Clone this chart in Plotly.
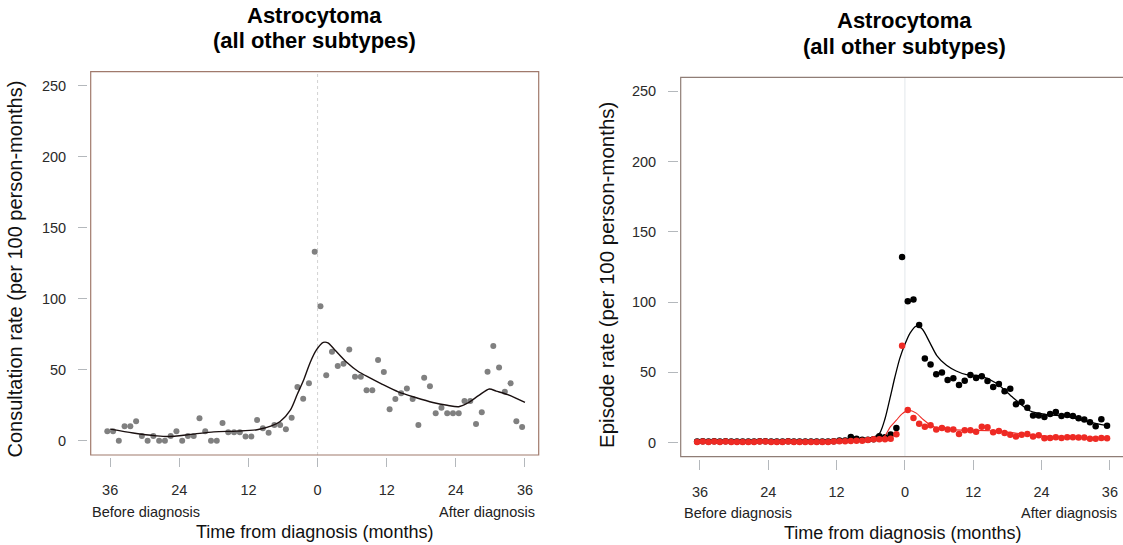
import plotly.graph_objects as go

# ---------------- data ----------------
# month mid-points (-36.5 ... 35.5)
months = [m + 0.5 for m in range(-37, 36)]

consult_rate = [6.8, 6.8, 0, 10.3, 10.3, 13.8, 3.3, 0, 3.3, 0, 0, 3.3, 6.8, 0, 3.3, 3.3,
                15.9, 6.8, 0, 0, 12.6, 6.1, 6.1, 6.1, 3.0, 3.0, 14.7, 8.9, 5.6, 11.2, 11.2,
                8.2, 16.2, 37.9, 29.7, 40.5, 133.2, 94.8, 46.1, 62.7, 52.7, 54.3, 64.4, 45.2,
                45.2, 35.6, 35.6, 56.9, 48.5, 22.2, 29.5, 33.5, 36.8, 29.5, 11.2, 44.5, 38.4,
                19.4, 23.2, 19.4, 19.4, 19.4, 28.1, 28.1, 11.9, 20.1, 48.7, 66.7, 51.7, 34.6,
                40.5, 13.8, 9.8]

consult_smooth_x = [-36, -32, -28, -26, -22, -18, -14, -10.5, -8, -6.5, -4.7, -3.5, -2.4,
                    -1.3, -0.2, 1.0, 1.8, 3, 5, 7, 9, 11, 14, 17, 20, 22.5, 24.5, 26, 28,
                    29.8, 31, 33, 36]
consult_smooth_y = [8.2, 5.5, 3.5, 3.0, 4.5, 6.3, 6.8, 7.8, 10.5, 13.6, 21.8, 33, 43, 55, 64,
                    69.3, 69, 64, 55.5, 49, 44.5, 40.3, 34.5, 30.5, 27, 25, 24, 26.5, 32,
                    36.5, 35, 32.5, 27]

episode_all = [0.9, 1.0, 0.8, 1.0, 0.8, 1.0, 0.8, 0.8, 0.8, 0.8, 0.8, 1.0, 1.0, 0.8, 0.8,
               0.8, 1.0, 0.8, 0.8, 0.8, 0.8, 0.8, 0.8, 0.8, 1.0,
               1.5, 1.5, 4.0, 2.8, 2.0, 2.0, 2.5, 4.5, 3.8, 5.8, 10.4,
               132.1, 100.6, 101.8, 83.7, 59.8, 55.7, 48.6, 50, 44.6, 45.8, 41, 44.1, 48.1,
               46, 47.2, 43.9, 39.6, 41.7, 36.5, 38.4, 27.3, 28.9, 24.9, 19.4, 19.4, 18.3,
               20.4, 21.8, 19, 19.7, 19, 17.3, 16.4, 14.5, 11.6, 16.6, 12.1]

episode_sub = [0.5, 0.8, 0.5, 0.8, 0.5, 0.8, 0.5, 0.5, 0.5, 0.5, 0.5, 0.8, 0.8, 0.5, 0.5,
               0.5, 0.8, 0.5, 0.5, 0.5, 0.5, 0.5, 0.5, 0.5, 0.8,
               1.0, 1.0, 1.2, 1.4, 1.4, 1.9, 2.4, 2.4, 2.4, 2.8, 5.9,
               69, 23.2, 17.6, 13.5, 11.4, 12.3, 9.3, 10.4, 9.3, 9.3, 6.2, 8.8, 8.8, 7.8,
               11.4, 10.9, 7.4, 8.3, 6.9, 5.7, 4.3, 5.7, 6.2, 4.3, 5.2, 3.1, 3.3, 3.8, 3.3,
               3.8, 3.8, 3.6, 3.6, 2.8, 2.8, 3.3, 3.1]

episode_all_smooth_x = [-36, -24, -15, -10, -6.5, -5.2, -4.4, -3.5, -2.6, -1.8, -0.9, 0.0,
                        0.9, 2.0, 3.0, 4.4, 5.6, 7.3, 9, 10.8, 13.2, 16, 19, 22, 24.9, 28.4,
                        31.9, 35.5]
episode_all_smooth_y = [1, 1, 1.5, 2, 3, 4.5, 7, 17, 32, 46, 60, 70, 78, 83, 81, 71, 62,
                        55, 51, 48.4, 47.5, 42.5, 32, 22.5, 20, 18.7, 15.2, 12.1]

episode_sub_smooth_x = [-36, -10, -5.5, -4.4, -3.5, -2.6, -1.5, -0.5, 0.6, 2, 3.2, 4.4, 6,
                        8, 11, 15, 18, 21, 24, 28, 32, 35.5]
episode_sub_smooth_y = [0.8, 1, 1.5, 2.5, 5, 11, 16, 20.5, 23, 21, 16.5, 12.8, 10, 9.3, 8.8,
                        8.5, 7.5, 6, 4.8, 3.8, 3.4, 3.1]

tick_vals_x = [-36, -24, -12, 0, 12, 24, 36]
tick_text_x = ["36", "24", "12", "0", "12", "24", "36"]
tick_vals_y = [0, 50, 100, 150, 200, 250]

title_line1 = "Astrocytoma"
title_line2 = "(all other subtypes)"
ytitle_left = "Consultation rate (per 100 person-months)"
ytitle_right = "Episode rate (per 100 person-months)"
xtitle = "Time from diagnosis (months)"

# ---------------- layout helpers ----------------
W, H = 1123, 545
def px(x):
    return x / W
def py(y):
    return 1 - y / H

FONT = "Liberation Sans, Arial, sans-serif"
BOX = "#a07a6c"
TICK = "#b4b8bc"

fig = go.Figure()

fig.add_trace(go.Scatter(x=months, y=consult_rate, mode="markers",
                         marker=dict(color="#808080", size=6), xaxis="x", yaxis="y",
                         showlegend=False, hoverinfo="skip"))
fig.add_trace(go.Scatter(x=consult_smooth_x, y=consult_smooth_y, mode="lines",
                         line=dict(color="#1a1010", width=1.4, shape="spline", smoothing=0.8),
                         xaxis="x", yaxis="y", showlegend=False, hoverinfo="skip"))

fig.add_trace(go.Scatter(x=months, y=episode_all, mode="markers",
                         marker=dict(color="#000000", size=6.5), xaxis="x2", yaxis="y2",
                         showlegend=False, hoverinfo="skip"))
fig.add_trace(go.Scatter(x=episode_all_smooth_x, y=episode_all_smooth_y, mode="lines",
                         line=dict(color="#000000", width=1.3, shape="spline", smoothing=0.8),
                         xaxis="x2", yaxis="y2", showlegend=False, hoverinfo="skip"))
fig.add_trace(go.Scatter(x=months, y=episode_sub, mode="markers",
                         marker=dict(color="#ee2a24", size=6.5), xaxis="x2", yaxis="y2",
                         showlegend=False, hoverinfo="skip"))
fig.add_trace(go.Scatter(x=episode_sub_smooth_x, y=episode_sub_smooth_y, mode="lines",
                         line=dict(color="#ee2a24", width=1.1, shape="spline", smoothing=0.8),
                         xaxis="x2", yaxis="y2", showlegend=False, hoverinfo="skip"))

tickfont = dict(family=FONT, size=14.5, color="#2a2a2a")
xcommon = dict(tickvals=tick_vals_x, ticktext=tick_text_x, ticks="outside", tickcolor=TICK,
               tickwidth=1, showline=False, showgrid=False, zeroline=False,
               tickfont=tickfont, anchor="free", fixedrange=True)
ycommon = dict(tickvals=tick_vals_y, ticks="outside", tickcolor=TICK, tickwidth=1,
               showline=False, showgrid=False, zeroline=False, tickfont=tickfont,
               anchor="free", range=[-10, 260], fixedrange=True)

fig.update_layout(
    width=W, height=H, autosize=False,
    margin=dict(l=0, r=0, t=0, b=0),
    paper_bgcolor="white", plot_bgcolor="white",
    font=dict(family=FONT, color="#111111"),
    xaxis=dict(domain=[px(90.7), px(538.7)], range=[-39.38, 38.38], position=py(457),
               ticklen=9, ticklabelstandoff=11, **xcommon),
    yaxis=dict(domain=[py(455), py(71.7)], position=px(87), ticklen=9,
               ticklabelstandoff=9, **ycommon),
    xaxis2=dict(domain=[px(680.7), 1.0], range=[-39.38, 38.3], position=py(458.5),
                ticklen=10, ticklabelstandoff=10, **xcommon),
    yaxis2=dict(domain=[py(456.7), py(77.3)], position=px(678), ticklen=10,
                ticklabelstandoff=9, **ycommon),
)

# boxes and zero lines
fig.add_shape(type="rect", xref="x domain", yref="y domain", x0=0, x1=1, y0=0, y1=1,
              line=dict(color=BOX, width=1.2), layer="above")
fig.add_shape(type="rect", xref="x2 domain", yref="y2 domain", x0=0, x1=1.004, y0=0, y1=1,
              line=dict(color="#8f7d76", width=1.2), layer="above")
fig.add_shape(type="line", xref="x", yref="y domain", x0=0, x1=0, y0=0, y1=1,
              line=dict(color="#d2d2d2", width=1, dash="dot"), layer="below")
fig.add_shape(type="line", xref="x2", yref="y2 domain", x0=0, x1=0, y0=0, y1=1,
              line=dict(color="#e2e7eb", width=1), layer="below")

ann = []
def text(x, y, s, size, xanchor="center", angle=0, bold=False, color="#111111"):
    ann.append(dict(x=px(x), y=py(y), xref="paper", yref="paper", text=(f"<b>{s}</b>" if bold else s),
                    showarrow=False, xanchor=xanchor, yanchor="middle", textangle=angle,
                    font=dict(family=FONT, size=size, color=color)))

# titles
text(314, 15, title_line1, 22, bold=True, color="#000000")
text(314, 41, title_line2, 22, bold=True, color="#000000")
text(904, 20.5, title_line1, 22, bold=True, color="#000000")
text(904, 46.5, title_line2, 22, bold=True, color="#000000")
# y titles
text(14.5, 269, ytitle_left, 20, angle=-90)
text(606, 275, ytitle_right, 20.5, angle=-90)
# x titles
text(314, 532, xtitle, 18)
text(902.5, 533.3, xtitle, 18)
# before / after
text(90, 511.7, "Before diagnosis", 14.5, xanchor="left", color="#222222")
text(537, 511.7, "After diagnosis", 14.5, xanchor="right", color="#222222")
text(681.7, 512.7, "Before diagnosis", 14.5, xanchor="left", color="#222222")
text(1118.5, 512.7, "After diagnosis", 14.5, xanchor="right", color="#222222")

fig.update_layout(annotations=ann)

fig.write_html("out.html", config={"displayModeBar": False},
               post_script="document.body.style.margin='0';document.body.style.overflow='hidden';")
